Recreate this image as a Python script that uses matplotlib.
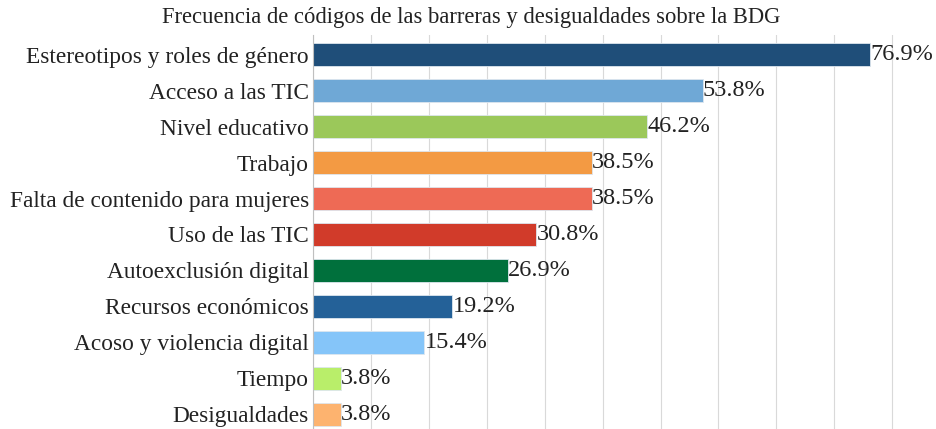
import matplotlib
matplotlib.use("Agg")
import matplotlib.pyplot as plt
import numpy as np

categories = ["Estereotipos y roles de género", "Acceso a las TIC", "Nivel educativo",
              "Trabajo", "Falta de contenido para mujeres", "Uso de las TIC",
              "Autoexclusión digital", "Recursos económicos", "Acoso y violencia digital",
              "Tiempo", "Desigualdades"]
values = [76.9, 53.8, 46.2, 38.5, 38.5, 30.8, 26.9, 19.2, 15.4, 3.8, 3.8]
colors = ["#1F4E79", "#6FA8D6", "#9BC85A", "#F39A43", "#EE6A55", "#D13B2A",
          "#00703C", "#246198", "#85C5F9", "#B9EE6A", "#FDB36F"]
title = "Frecuencia de códigos de las barreras y desigualdades sobre la BDG"

plt.rcParams['font.family'] = ['Liberation Serif', 'DejaVu Serif']

fig = plt.figure(figsize=(9.37, 4.29), dpi=100)
W, H = 937, 429
left, right = 313, 937
top_y, bottom_y = 35, 434
ax = fig.add_axes([left / W, 1 - bottom_y / H, (right - left) / W, (bottom_y - top_y) / H])

y = np.arange(len(categories))
ax.barh(y, values, height=0.64, color=colors, edgecolor="#DDE6EE", linewidth=0.6, zorder=3)
for yi, v in zip(y, values):
    ax.text(v + 0.05, yi, f"{v:.1f}%", va="center", ha="left", fontsize=17.5, color="#222222",
            clip_on=False, zorder=4)

ax.set_yticks(y)
ax.set_yticklabels(categories, fontsize=16.8, color="#222222")
ax.set_ylim(len(categories) - 0.5 + 0.05, -0.55)
ax.set_xlim(0, (right - left) / 7.24)
ax.set_xticks(np.arange(0, 81, 8))
ax.tick_params(axis="x", bottom=False, labelbottom=False)
ax.tick_params(axis="y", length=0, pad=3)
ax.grid(axis="x", color="#D9D9D9", linewidth=0.8, zorder=0)
for s in ["top", "right", "bottom"]:
    ax.spines[s].set_visible(False)
ax.spines["left"].set_color("#BFBFBF")
ax.spines["left"].set_linewidth(0.8)
ax.spines["left"].set_zorder(5)

fig.text(471 / W, 1 - 18 / H, title, ha="center", va="center", fontsize=16.3, color="#222222")

fig.savefig("out.png", dpi=100)
